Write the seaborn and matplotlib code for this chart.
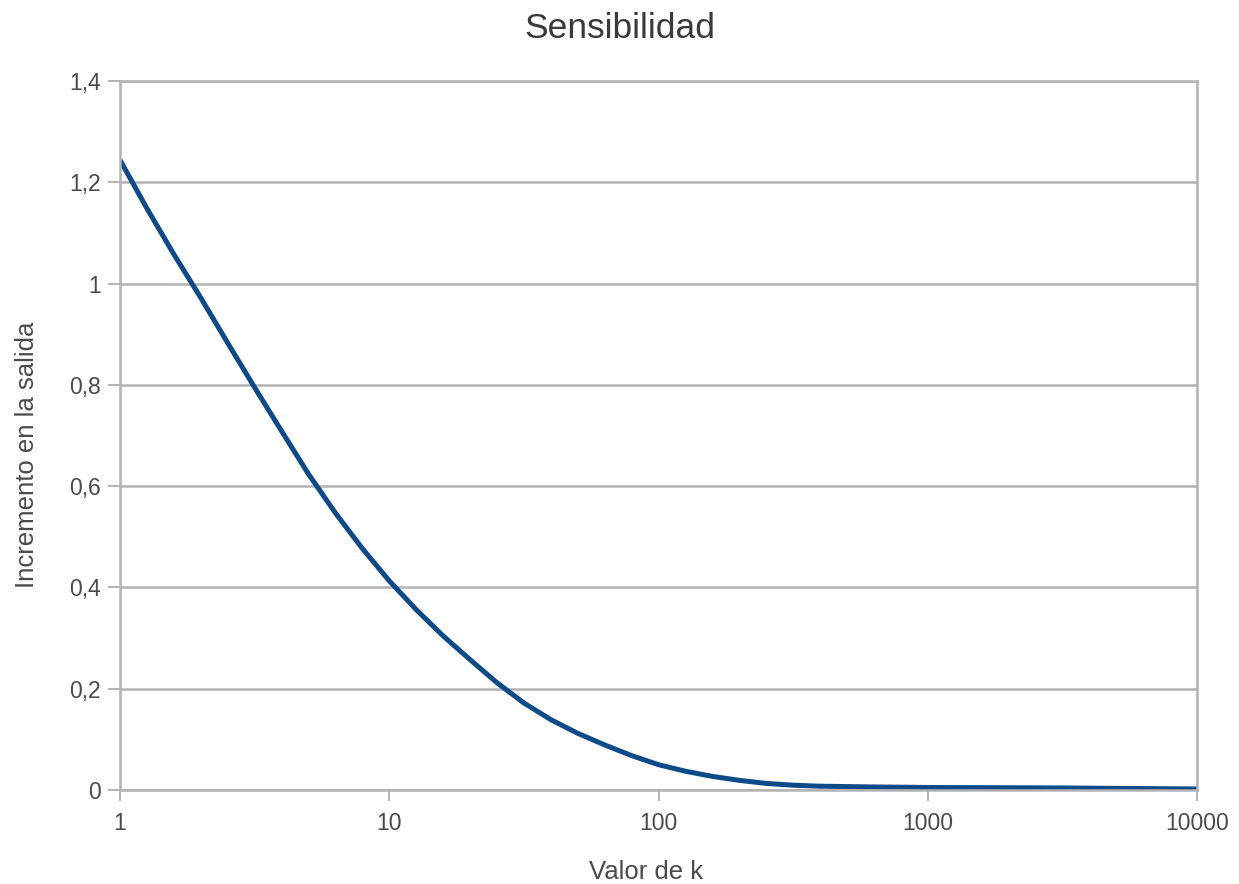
import matplotlib
matplotlib.use("Agg")
import matplotlib.pyplot as plt
import seaborn as sns
import pandas as pd
from matplotlib.ticker import FixedLocator, FuncFormatter, NullLocator

# Data
k_values = [1, 1.26, 1.58, 2, 2.51, 3.16, 3.98, 5.01, 6.31, 7.94, 10, 12.6,
            15.8, 20, 25.1, 31.6, 39.8, 50.1, 63.1, 79.4, 100, 126, 158, 200,
            251, 316, 398, 631, 1000, 3162, 10000]
incremento = [1.244, 1.148, 1.059, 0.971, 0.883, 0.795, 0.709, 0.624, 0.547,
              0.477, 0.413, 0.356, 0.305, 0.257, 0.212, 0.172, 0.139, 0.112,
              0.089, 0.068, 0.050, 0.037, 0.027, 0.019, 0.013, 0.0095, 0.0075,
              0.006, 0.005, 0.004, 0.002]
x_ticks = [1, 10, 100, 1000, 10000]
y_ticks = [0, 0.2, 0.4, 0.6, 0.8, 1.0, 1.2, 1.4]

title = "Sensibilidad"
x_label = "Valor de k"
y_label = "Incremento en la salida"

sns.set_theme(style="white")
plt.rcParams['font.family'] = ['Liberation Sans', 'DejaVu Sans']

df = pd.DataFrame({"k": k_values, "v": incremento})

W, H = 1239, 884
fig = plt.figure(figsize=(W / 100, H / 100), dpi=100)
ax = fig.add_axes([120 / W, 1 - 790 / H, (1197 - 120) / W, (790 - 81) / H])

sns.lineplot(data=df, x="k", y="v", ax=ax, color="#0d4a8a", linewidth=3.6,
             solid_capstyle="butt", solid_joinstyle="round")

ax.set_xscale("log")
ax.set_xlim(1, 10000)
ax.set_ylim(0, 1.4)

ax.xaxis.set_major_locator(FixedLocator(x_ticks))
ax.xaxis.set_minor_locator(NullLocator())
ax.xaxis.set_major_formatter(FuncFormatter(lambda v, p: f"{int(round(v))}"))
ax.yaxis.set_major_locator(FixedLocator(y_ticks))


def yfmt(v, p):
    s = f"{v:.1f}"
    if s.endswith(".0"):
        s = s[:-2]
    return s.replace(".", ",")


ax.yaxis.set_major_formatter(FuncFormatter(yfmt))

gray = "#b3b3b3"
ax.grid(axis="y", color=gray, linewidth=1.8)
ax.grid(axis="x", visible=False)
ax.set_axisbelow(True)
for sp in ax.spines.values():
    sp.set_color(gray)
    sp.set_linewidth(1.8)
    sp.set_visible(True)

ax.tick_params(axis="y", which="major", direction="out", length=9,
               width=1.4, color=gray, labelsize=16.5, labelcolor="#4a4a4a",
               pad=5, left=True)
ax.tick_params(axis="x", which="major", direction="out", length=8,
               width=1.4, color=gray, labelsize=16.5, labelcolor="#4a4a4a",
               pad=8, bottom=True)

ax.set_xlabel("")
ax.set_ylabel("")
fig.text(620 / W, 1 - 38 / H, title, fontsize=25.5, color="#3a3a3a",
         ha="center", va="baseline")
fig.text(646 / W, 1 - 879 / H, x_label, fontsize=18.5, color="#4a4a4a",
         ha="center", va="baseline")
fig.text(27 / W, 1 - 455 / H, y_label, fontsize=18.5, color="#4a4a4a",
         ha="center", va="center", rotation=90)

fig.savefig("out.png", dpi=100, facecolor="white")
